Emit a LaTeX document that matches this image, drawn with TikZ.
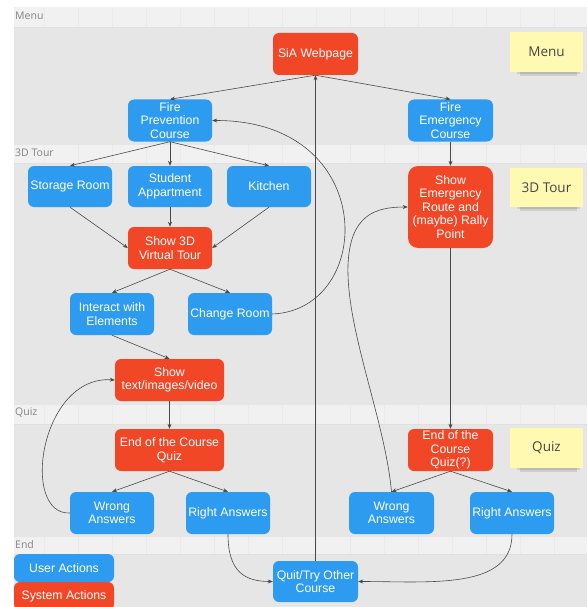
\documentclass[tikz,border=0pt]{standalone}
\usepackage{fontspec}
\setmainfont{Liberation Sans}
\newfontfamily\lanefont{Open Sans}
\usetikzlibrary{arrows.meta}
\definecolor{ublue}{HTML}{2D9BF0}
\definecolor{sred}{HTML}{F24726}
\definecolor{lanebg}{HTML}{E6E6E6}
\definecolor{headbg}{HTML}{F1F1F1}
\definecolor{gridc}{HTML}{EAEAEA}
\definecolor{sticky}{HTML}{FFF9B1}
\definecolor{edgec}{HTML}{4A4A4A}
\tikzset{
 box/.style={rounded corners=6pt, text=white, align=center, inner sep=0pt,
   font=\fontsize{12.3}{13.5}\selectfont, minimum width=84pt, minimum height=42pt},
 user/.style={box, fill=ublue},
 sys/.style={box, fill=sred},
 note/.style={fill=sticky, text=black!72, font=\lanefont\fontsize{13.5}{15}\selectfont,
   minimum width=73pt, minimum height=40pt, inner sep=0pt},
 lanelabel/.style={anchor=west, text=black!48, font=\lanefont\fontsize{10.5}{12}\selectfont, inner sep=0pt},
 arr/.style={draw=edgec, line width=0.6pt, -{Stealth[length=5pt,width=4pt]}},
 shadowc/.style={fill=black, opacity=0.10},
}
\begin{document}
\begin{tikzpicture}[x=1pt,y=-1pt]
\useasboundingbox (0,0) rectangle (587,607);
\fill[white] (0,0) rectangle (587,607);
% lanes
\foreach \ht/\hb/\cb in {7/27/145, 145/163/405, 405/424/537, 537/554/607}{
  \fill[headbg] (14,\ht) rectangle (587,\hb);
  \foreach \gx in {44,78,...,587} \draw[gridc, line width=0.4pt] (\gx,\ht) -- (\gx,\hb);
  \fill[lanebg] (14,\hb) rectangle (587,\cb);
  \draw[black!12, line width=0.5pt] (14,\hb) -- (587,\hb);
}
\node[lanelabel] (lmenu) at (15,16) {Menu};
\node[lanelabel] (ltour) at (15,153) {3D Tour};
\node[lanelabel] (lquiz) at (15,413) {Quiz};
\node[lanelabel] (lend) at (15,545) {End};
% sticky shadows
\foreach \sy in {72, 207, 468}{
  \fill[shadowc] (517,\sy-2) rectangle (580,\sy+2);
  \fill[shadowc] (520,\sy) rectangle (577,\sy+4);
}
\node[note] (nmenu) at (546.5,52) {Menu};
\node[note, minimum height=39pt] (ntour) at (546.5,187.5) {3D Tour};
\node[note] (nquiz) at (546.5,448) {Quiz};
% nodes
\node[sys, minimum width=85pt] (sia) at (315.5,54) {SiA Webpage};
\node[user] (fpc) at (170,120.5) {Fire\\Prevention\\Course};
\node[user, minimum width=85pt] (fec) at (450.5,120.5) {Fire\\Emergency\\Course};
\node[user, minimum height=41pt] (storage) at (70,186.5) {Storage Room};
\node[user, minimum height=41pt] (student) at (170,186.5) {Student\\Appartment};
\node[user, minimum height=41pt] (kitchen) at (269,186.5) {Kitchen};
\node[sys] (show3d) at (170,248) {Show 3D\\Virtual Tour};
\node[user] (interact) at (112,314) {Interact with\\Elements};
\node[user] (change) at (230,314) {Change Room};
\node[sys, minimum width=109pt] (showtext) at (169.5,380) {Show\\text/images/video};
\node[sys, minimum width=85pt, minimum height=82pt, rounded corners=10pt] (route) at (450.5,207)
  {Show\\Emergency\\Route and\\(maybe) Rally\\Point};
\node[sys, minimum width=109pt] (endquiz) at (169.5,450) {End of the Course\\Quiz};
\node[user] (wrong1) at (112,513) {Wrong\\Answers};
\node[user] (right1) at (228,513) {Right Answers};
\node[sys, minimum width=85pt] (endquiz2) at (450.5,450) {End of the\\Course\\Quiz(?)};
\node[user, minimum width=85pt] (wrong2) at (391.5,513) {Wrong\\Answers};
\node[user] (right2) at (512,513) {Right Answers};
\node[user, minimum width=100pt, minimum height=28pt] (legu) at (64,568) {User Actions};
\node[sys, minimum width=100pt, minimum height=28pt] (legs) at (64,596) {System Actions};
\node[user, minimum width=85pt, minimum height=41pt] (quit) at (315.5,581.5) {Quit/Try Other\\Course};
% edges
\draw[arr] (sia.south) -- (fpc.north);
\draw[arr] (sia.south) -- (fec.north);
\draw[arr] (fpc.south) -- (storage.north);
\draw[arr] (fpc.south) -- (student.north);
\draw[arr] (fpc.south) -- (kitchen.north);
\draw[arr] (storage.south) -- (show3d.west);
\draw[arr] (student.south) -- (show3d.north);
\draw[arr] (kitchen.south) -- (show3d.east);
\draw[arr] (show3d.south) -- (interact.north);
\draw[arr] (show3d.south) -- (change.north);
\draw[arr] (interact.south) -- (showtext.north);
\draw[arr] (showtext.south) -- (endquiz.north);
\draw[arr] (endquiz.south) -- (wrong1.north);
\draw[arr] (endquiz.south) -- (right1.north);
\draw[arr] (wrong1.west) .. controls (20,515) and (40,375) .. (showtext.west);
\draw[arr] (change.east) .. controls (375,310) and (380,120) .. (fpc.east);
\draw[arr] (quit.north) -- (sia.south);
\draw[arr] (right1.south) .. controls (228,572) and (245,581.5) .. (quit.west);
\draw[arr] (right2.south) .. controls (512,590) and (430,581.5) .. (quit.east);
\draw[arr] (fec.south) -- (route.north);
\draw[arr] (route.south) -- (endquiz2.north);
\draw[arr] (endquiz2.south) -- (wrong2.north);
\draw[arr] (endquiz2.south) -- (right2.north);
\draw[arr] (wrong2.north) .. controls (385,420) and (346,330) .. (348,265)
  .. controls (350,215) and (375,207) .. (route.west);
\end{tikzpicture}
\end{document}
